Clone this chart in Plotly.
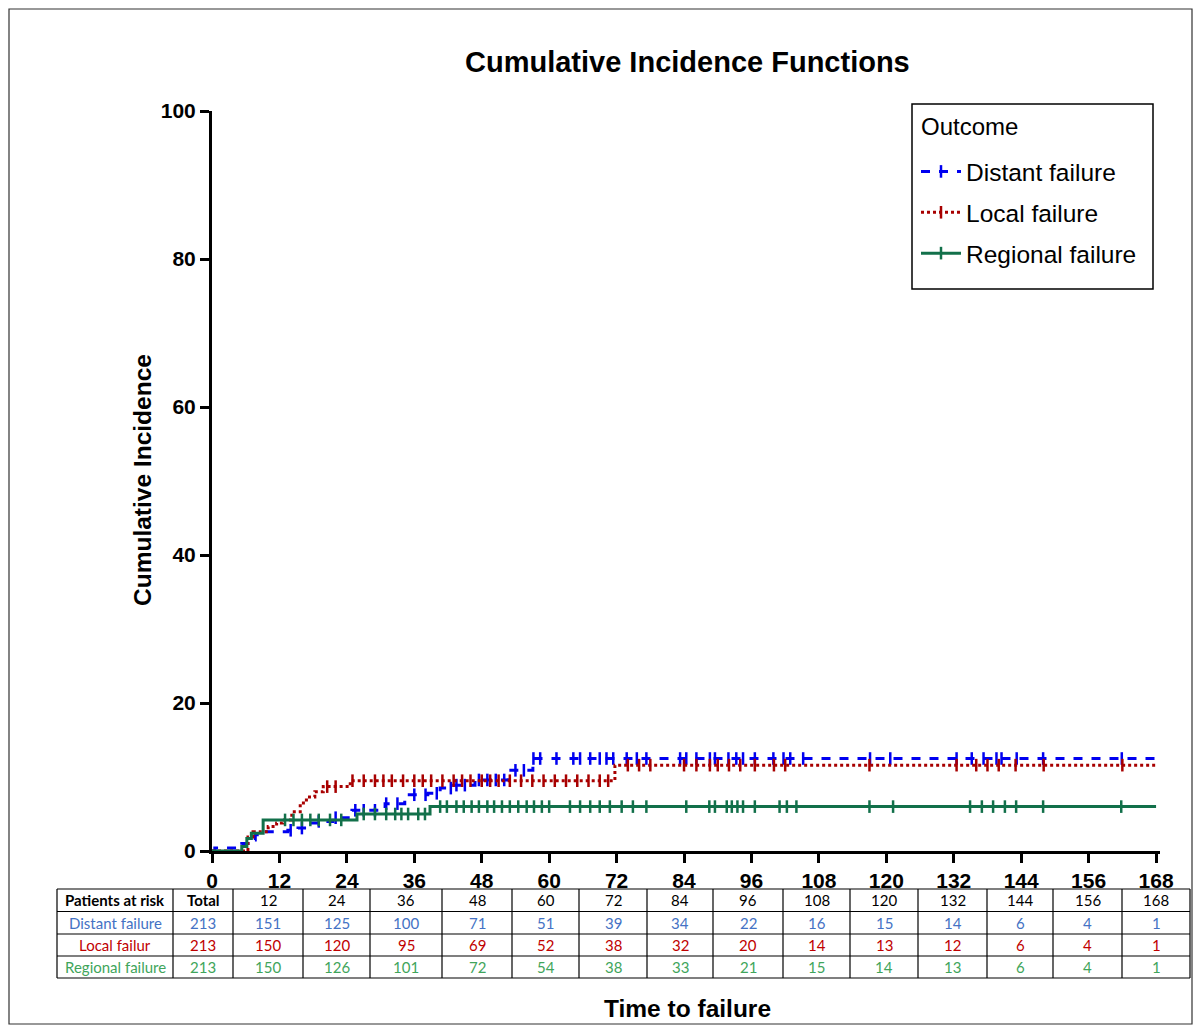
import numpy as np
import plotly.graph_objects as go

# ---------------- data ----------------
x_ticks = list(range(0, 169, 12))
y_ticks = [0, 20, 40, 60, 80, 100]

distant_t = [0, 0.5, 5.3, 6.4, 7.7, 9.1, 13.5, 15.3, 17.1, 18.9, 21.5, 24.9, 30.8, 34.3, 38.4, 40.6, 42.6, 46.8, 52.7, 57.1, 168]
distant_v = [0, 0.4, 1.0, 1.5, 2.2, 2.6, 2.8, 3.1, 3.8, 4.0, 4.5, 5.5, 6.4, 7.6, 7.8, 8.5, 8.9, 9.6, 10.9, 12.5, 12.5]

local_t = [0, 6.4, 7.3, 10.0, 11.5, 12.6, 14.2, 15.7, 16.8, 18.3, 19.8, 24.6, 71.7, 168]
local_v = [0, 1.9, 2.6, 3.3, 3.8, 4.2, 5.3, 6.5, 7.3, 8.0, 8.7, 9.5, 11.6, 11.6]

regional_t = [0, 5.3, 6.2, 7.0, 9.1, 25.8, 38.8, 168]
regional_v = [0, 0.6, 1.7, 2.4, 4.2, 5.0, 6.0, 6.0]

distant_cens = [14, 16, 19, 22, 25.5, 27, 29, 31, 33, 36, 38, 40, 42.5, 43.5, 45, 47.5, 49, 50.5, 52, 54, 55.5,
                57.2, 58.4, 61.3, 64.3, 65.5, 67.3, 69, 70.2, 71.4, 73.8, 75.6, 77.3, 83.3, 84.4, 86.2,
                88.6, 89.5, 91.9, 93.3, 94.5, 96.6, 99.9, 101.7, 102.9, 105.2, 117.1, 120.7,
                132.5, 135.2, 137.3, 139.6, 140.5, 143.2, 147.9, 161.9]
local_cens = [20.5, 22, 25, 27, 29, 30.5, 32, 34, 36, 37.5, 39, 41, 43, 44.5, 46, 48, 49.5, 51, 53, 55, 57,
              59, 61, 63, 65, 67, 69, 70.5, 74, 76, 78, 84, 86.2, 88.6, 90, 92, 94, 96.6, 100, 102,
              117, 132.5, 136, 138, 140, 143, 148, 162]
regional_cens = [13, 14.5, 16, 17.5, 19, 21, 23, 27, 29, 31, 32.6, 33.7, 34.9, 36.7, 37.9, 40.6, 41.8, 43.5,
                 44.8, 46.2, 47.5, 49, 50.2, 51.6, 53, 54.5, 56, 57.3, 58.7, 60, 63.7, 65.5, 67.3, 69, 70.8,
                 72.9, 74.9, 77.3, 84.4, 88.5, 89.5, 91.6, 92.5, 93.5, 94.5, 96.6, 101, 102.3, 104, 117,
                 121.2, 134.9, 137, 139, 141.1, 143.1, 147.9, 161.8]

series_names = ["Distant failure", "Local failure", "Regional failure"]

table_header = ["Patients at risk", "Total"] + [str(t) for t in range(12, 169, 12)]
row_labels = ["Distant failure", "Local failur", "Regional failure"]
risk_distant = [213, 151, 125, 100, 71, 51, 39, 34, 22, 16, 15, 14, 6, 4, 1]
risk_local = [213, 150, 120, 95, 69, 52, 38, 32, 20, 14, 13, 12, 6, 4, 1]
risk_regional = [213, 150, 126, 101, 72, 54, 38, 33, 21, 15, 14, 13, 6, 4, 1]

# ---------------- styles ----------------
W, H = 1201, 1027
L, R, T, B = 212, 41, 111, 176
PW, PH = W - L - R, H - T - B
FONT = "Liberation Sans"
TFONT = "Lato"
colors = ["#0000F0", "#A80000", "#12704A"]
dashes = ["dash", "dot", "solid"]
table_colors = ["#4472C4", "#C00000", "#3FA55B"]


def px2x(px):
    return (px - L) / PW


def px2y(py):
    return (H - B - py) / PH


def step_at(ts, vs, t):
    idx = np.searchsorted(np.array(ts), np.array(t), side="right") - 1
    return np.array(vs)[idx]


fig = go.Figure()
curves = [(distant_t, distant_v, distant_cens), (local_t, local_v, local_cens), (regional_t, regional_v, regional_cens)]
for i, (ts, vs, cs) in enumerate(curves):
    fig.add_trace(go.Scatter(x=ts, y=vs, mode="lines", line=dict(color=colors[i], width=3, dash=dashes[i], shape="hv"),
                             showlegend=False, legendgroup=series_names[i], hoverinfo="skip"))
    fig.add_trace(go.Scatter(x=cs, y=step_at(ts, vs, cs), mode="markers",
                             marker=dict(symbol="line-ns", size=9, line=dict(color=colors[i], width=2.5)),
                             showlegend=False, legendgroup=series_names[i], hoverinfo="skip"))
    fig.add_trace(go.Scatter(x=[None], y=[None], mode="lines+markers", name=series_names[i],
                             legendgroup=series_names[i],
                             line=dict(color=colors[i], width=3, dash=dashes[i]),
                             marker=dict(symbol="line-ns", size=9, line=dict(color=colors[i], width=2.5))))

fig.update_layout(
    width=W, height=H,
    margin=dict(l=L, r=R, t=T, b=B, autoexpand=False),
    paper_bgcolor="white", plot_bgcolor="white",
    font=dict(family=FONT, color="black"),
    showlegend=True,
    legend=dict(x=px2x(916), y=px2y(149), xanchor="left", yanchor="top",
                borderwidth=0, bgcolor="rgba(0,0,0,0)",
                font=dict(family=FONT, size=24.5), tracegroupgap=6,
                itemwidth=40),
)
fig.update_xaxes(range=[0, 168.7], tickvals=x_ticks, showline=True, linewidth=3, linecolor="black",
                 ticks="outside", ticklen=9, tickwidth=3, tickcolor="black", showgrid=False, zeroline=False,
                 tickfont=dict(family=FONT, size=21, weight="bold"))
fig.update_yaxes(range=[0, 100], tickvals=y_ticks, showline=True, linewidth=3, linecolor="black",
                 ticks="outside", ticklen=9, tickwidth=3, tickcolor="black", showgrid=False, zeroline=False,
                 tickfont=dict(family=FONT, size=21, weight="bold"))

ann = []
ann.append(dict(text="<b>Cumulative Incidence Functions</b>", x=px2x(687), y=px2y(62), xref="paper", yref="paper",
                showarrow=False, font=dict(family=FONT, size=29), xanchor="center", yanchor="middle"))
ann.append(dict(text="<b>Cumulative Incidence</b>", x=px2x(142), y=px2y(480), xref="paper", yref="paper",
                showarrow=False, textangle=-90, font=dict(family=FONT, size=24.5), xanchor="center", yanchor="middle"))
ann.append(dict(text="<b>Time to failure</b>", x=px2x(687), y=px2y(1008), xref="paper", yref="paper",
                showarrow=False, font=dict(family=FONT, size=24.5), xanchor="center", yanchor="middle"))
ann.append(dict(text="Outcome", x=px2x(919), y=px2y(126), xref="paper", yref="paper",
                showarrow=False, font=dict(family=FONT, size=24), xanchor="left", yanchor="middle"))

shapes = []
# legend box
shapes.append(dict(type="rect", xref="paper", yref="paper", x0=px2x(912), x1=px2x(1153), y0=px2y(289), y1=px2y(104),
                   line=dict(color="black", width=1.5)))

# ---------------- at-risk table ----------------
col_edges = [57, 173, 233, 303, 370, 442, 512, 579, 647, 713, 783, 850, 918, 987, 1053, 1122, 1190]
row_edges = [889, 911.5, 934, 956, 978]
for xe in col_edges:
    shapes.append(dict(type="line", xref="paper", yref="paper", x0=px2x(xe), x1=px2x(xe),
                       y0=px2y(row_edges[0]), y1=px2y(row_edges[-1]), line=dict(color="black", width=1.2)))
for ye in row_edges:
    shapes.append(dict(type="line", xref="paper", yref="paper", x0=px2x(col_edges[0]), x1=px2x(col_edges[-1]),
                       y0=px2y(ye), y1=px2y(ye), line=dict(color="black", width=1.2)))

rows = [table_header,
        [row_labels[0]] + [str(v) for v in risk_distant],
        [row_labels[1]] + [str(v) for v in risk_local],
        [row_labels[2]] + [str(v) for v in risk_regional]]
for r, cells in enumerate(rows):
    yc = (row_edges[r] + row_edges[r + 1]) / 2
    for c, txt in enumerate(cells):
        xc = (col_edges[c] + col_edges[c + 1]) / 2
        if r == 0:
            col = "black"
            t = f"<b>{txt}</b>" if c < 2 else txt
        else:
            col = table_colors[r - 1]
            t = txt
        ann.append(dict(text=t, x=px2x(xc), y=px2y(yc), xref="paper", yref="paper", showarrow=False,
                        font=dict(family=TFONT, size=15, color=col), xanchor="center", yanchor="middle"))

# outer frame
shapes.append(dict(type="rect", xref="paper", yref="paper", x0=px2x(9), x1=px2x(1192), y0=px2y(1024), y1=px2y(9),
                   line=dict(color="#333333", width=1.2)))

fig.update_layout(annotations=ann, shapes=shapes)

fig.write_html("out.html", config={"displayModeBar": False},
               post_script="document.body.style.margin='0';")
